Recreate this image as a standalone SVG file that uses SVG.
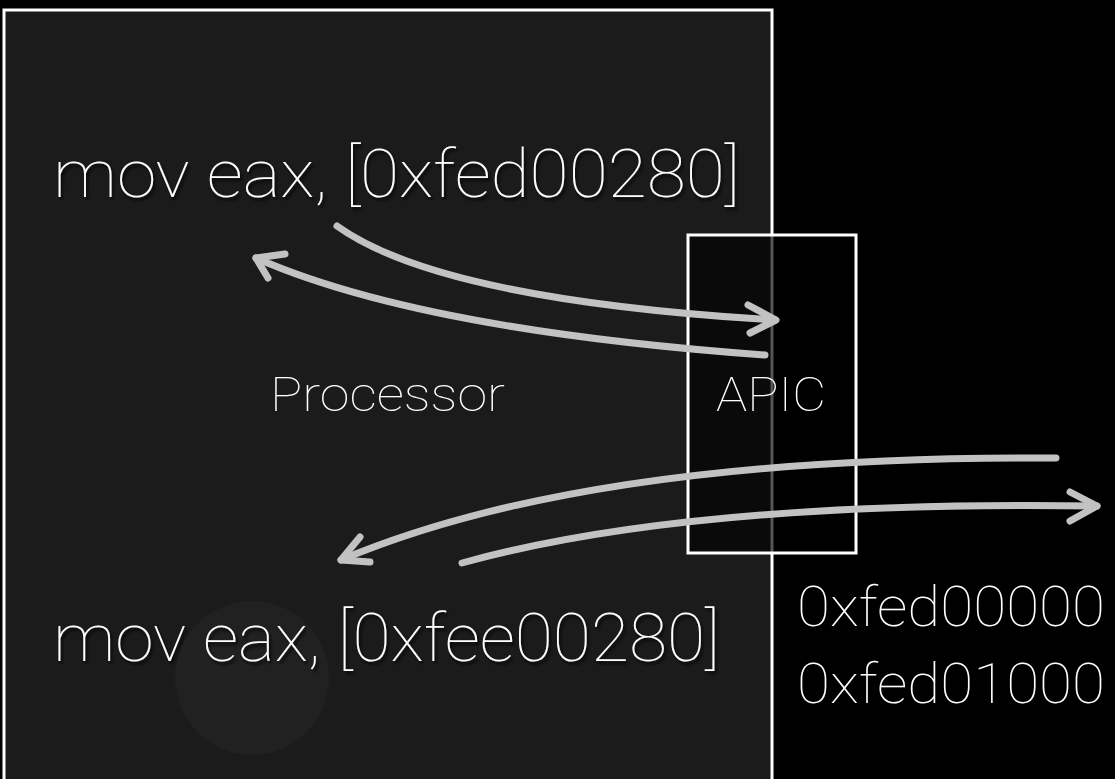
<svg xmlns="http://www.w3.org/2000/svg" width="1115" height="779" viewBox="0 0 1115 779">
  <defs>
    <style>
      .lbl { font-family: Roboto, "Liberation Sans", sans-serif; font-weight: 100; fill: #ffffff; }
      .big { font-size: 66px; }
      .mid { font-size: 48px; }
      .addr { font-size: 56px; }
      .edge { fill: none; stroke: #c2c2c2; stroke-width: 7; stroke-linecap: round; stroke-linejoin: round; }
    </style>
    <filter id="shadow" x="-5%" y="-20%" width="110%" height="140%">
      <feDropShadow dx="2" dy="3" stdDeviation="1.5" flood-color="#000" flood-opacity="0.8"/>
    </filter>
  </defs>

  <rect width="1115" height="779" fill="#000"/>

  <!-- processor -->
  <g id="processor">
    <rect x="4" y="10" width="768" height="780" fill="#1b1b1b" stroke="#fff" stroke-width="3"/>
    <circle cx="252" cy="678" r="77" fill="#212121"/>
    <text class="lbl mid" x="270" y="411" textLength="235" lengthAdjust="spacingAndGlyphs">Processor</text>
  </g>

  <!-- APIC -->
  <g id="apic">
    <rect x="687" y="234" width="85" height="319" fill="#0a0a0a"/>
    <rect x="772" y="234" width="84" height="319" fill="#000"/>
    <line x1="772" y1="234" x2="772" y2="553" stroke="#555" stroke-width="3"/>
    <rect x="688" y="235" width="168" height="318" fill="none" stroke="#fff" stroke-width="3"/>
    <text class="lbl mid" x="716" y="411" textLength="110" lengthAdjust="spacingAndGlyphs">APIC</text>
  </g>

  <g id="instr-top">
    <text class="lbl big" x="53" y="197" textLength="687" lengthAdjust="spacingAndGlyphs" filter="url(#shadow)">mov eax, [0xfed00280]</text>
  </g>
  <g id="instr-bottom">
    <text class="lbl big" x="53" y="661" textLength="667" lengthAdjust="spacingAndGlyphs" filter="url(#shadow)">mov eax, [0xfee00280]</text>
  </g>
  <g id="addr-range">
    <text class="lbl addr" x="797" y="626" textLength="308" lengthAdjust="spacingAndGlyphs">0xfed00000</text>
    <text class="lbl addr" x="797" y="703" textLength="308" lengthAdjust="spacingAndGlyphs">0xfed01000</text>
  </g>

  <!-- connectors -->
  <g id="connectors">
    <path class="edge" d="M337,226 Q440,300 775,320"/>
    <path class="edge" d="M748,305 L776,320 L750,333"/>
    <path class="edge" d="M765,355 Q420,330 256,258"/>
    <path class="edge" d="M285,254 L256,258 L268,278"/>
    <path class="edge" d="M1056,458 Q590,455 341,560"/>
    <path class="edge" d="M360,537 L341,560 L370,562"/>
    <path class="edge" d="M462,563 Q690,500 1097,506"/>
    <path class="edge" d="M1070,492 L1097,506 L1070,521"/>
  </g>
</svg>
